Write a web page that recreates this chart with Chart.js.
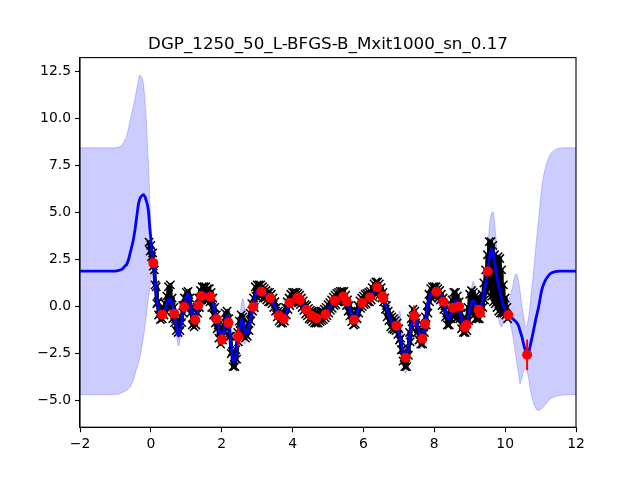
<!DOCTYPE html>
<html><head><meta charset="utf-8">
<script src="https://cdn.jsdelivr.net/npm/chart.js@4.4.1/dist/chart.umd.min.js"></script>
<style>html,body{margin:0;padding:0;background:#fff;}canvas{display:block;}</style>
</head><body>
<canvas id="c" width="640" height="480" style="width:640px;height:480px"></canvas>
<script>
const titleText = "DGP_1250_50_L-BFGS-B_Mxit1000_sn_0.17";
const xTicks = [-2, 0, 2, 4, 6, 8, 10, 12];
const yTicks = [-5, -2.5, 0, 2.5, 5, 7.5, 10, 12.5];

// predictive mean and band
const gridX = [-2.0,-1.5,-1.1,-0.93,-0.8,-0.75,-0.68,-0.63,-0.59,-0.55,-0.5,-0.45,-0.42,-0.38,-0.35,-0.31,-0.28,-0.21,-0.14,-0.07,-0.03,
 0.0,0.02,0.07,0.12,0.16,0.21,0.26,0.32,0.38,0.45,0.54,0.6,0.66,0.72,0.78,0.84,0.9,0.94,0.99,
 1.05,1.1,1.16,1.21,1.25,1.3,1.34,1.38,1.42,1.5,1.57,1.63,1.7,1.78,1.86,1.93,
 2.0,2.06,2.12,2.16,2.2,2.26,2.31,2.36,2.41,2.47,2.52,2.56,2.6,2.65,2.7,2.75,2.82,2.89,2.96,
 3.03,3.11,3.2,3.37,3.5,3.61,3.68,3.75,3.83,3.92,
 4.0,4.1,4.16,4.21,4.3,4.39,4.46,4.54,4.61,4.68,4.76,4.85,4.93,
 5.05,5.18,5.3,5.43,5.53,5.62,5.68,5.74,5.8,5.88,5.96,
 6.07,6.18,6.28,6.36,6.42,6.5,6.56,6.64,6.72,6.8,6.86,6.93,
 7.0,7.03,7.07,7.13,7.19,7.25,7.31,7.37,7.43,7.48,7.54,7.6,7.66,7.7,7.74,7.8,7.87,7.95,
 8.05,8.15,8.26,8.33,8.4,8.47,8.54,8.61,8.67,8.72,8.8,8.87,8.92,8.98,
 9.04,9.1,9.16,9.22,9.28,9.34,9.41,9.47,9.51,9.56,9.61,9.66,9.72,9.78,9.84,9.9,9.96,
 10.03,10.09,10.2,10.26,10.32,10.38,10.42,10.47,10.52,10.58,10.62,10.67,10.72,10.8,10.87,10.94,
 11.03,11.1,11.17,11.27,11.4,11.55,11.75,12.0];
const meanY = [1.88,1.88,1.88,1.91,2.0,2.12,2.25,2.5,2.8,3.1,3.5,4.05,4.47,5.05,5.45,5.73,5.84,5.95,5.69,5.1,4.17,
 3.57,2.97,2.33,1.26,0.5,-0.05,-0.38,-0.43,-0.26,0.14,0.41,0.14,-0.38,-1.07,-1.58,-1.18,-0.36,-0.02,0.44,
 0.68,0.34,-0.36,-0.78,-0.71,-0.31,0.06,0.34,0.56,0.68,0.68,0.62,0.49,-0.06,-0.66,-1.29,
 -1.76,-1.29,-0.58,-0.48,-0.88,-1.89,-2.7,-2.95,-2.5,-1.6,-0.98,-0.68,-0.88,-1.29,-1.46,-1.19,-0.58,-0.04,0.68,
 0.85,0.8,0.73,0.45,0.03,-0.48,-0.63,-0.68,-0.28,0.2,
 0.43,0.51,0.45,0.35,0.08,-0.18,-0.38,-0.49,-0.58,-0.62,-0.58,-0.53,-0.41,
 -0.07,0.31,0.48,0.51,0.26,-0.18,-0.53,-0.7,-0.48,-0.07,0.19,
 0.38,0.48,0.73,0.99,0.99,0.73,0.48,0.03,-0.48,-0.83,-0.93,-1.02,
 -1.39,-1.64,-1.99,-2.55,-2.73,-2.3,-1.49,-0.88,-0.5,-0.58,-1.08,-1.54,-1.72,-1.39,-0.92,-0.07,0.53,0.76,
 0.79,0.63,0.25,-0.28,-0.66,-0.38,0.03,0.31,0.13,-0.28,-0.88,-1.11,-0.93,-0.38,
 0.13,0.31,0.08,-0.12,-0.28,0.13,0.84,1.44,1.86,2.65,3.06,2.86,2.15,1.44,0.94,0.43,-0.02,
 -0.28,-0.45,-0.63,-0.73,-0.84,-1.03,-1.29,-1.59,-1.99,-2.4,-2.57,-2.4,-1.99,-1.29,-0.63,-0.07,
 0.85,1.25,1.5,1.74,1.85,1.88,1.88,1.88];
const upperY = [8.44,8.44,8.44,8.47,8.62,8.8,9.1,9.5,9.85,10.2,10.6,11.05,11.35,11.75,12.05,12.32,12.26,11.85,10.25,7.6,5.82,
 4.37,3.57,2.76,1.65,0.84,0.23,-0.09,-0.14,0.03,0.43,0.74,0.43,-0.09,-0.78,-1.24,-0.88,-0.07,0.28,0.79,
 0.94,0.63,-0.07,-0.48,-0.41,-0.02,0.35,0.63,0.86,0.98,0.98,0.92,0.79,0.23,-0.36,-0.98,
 -1.44,-0.88,-0.17,-0.12,-0.53,-1.54,-2.35,-2.6,-2.15,-1.29,-0.48,0.23,0.43,-0.17,-0.98,-0.83,-0.28,0.26,0.99,
 1.14,1.1,1.04,0.76,0.33,-0.17,-0.33,-0.38,0.03,0.5,
 0.74,0.82,0.76,0.66,0.38,0.13,-0.07,-0.19,-0.28,-0.32,-0.28,-0.23,-0.1,
 0.23,0.61,0.79,0.82,0.56,0.13,-0.23,-0.4,-0.17,0.23,0.49,
 0.68,0.79,1.04,1.29,1.29,1.04,0.79,0.33,-0.17,-0.53,-0.63,-0.58,
 -0.38,-0.23,-0.98,-2.2,-2.4,-1.99,-1.19,-0.58,-0.2,-0.28,-0.78,-1.24,-1.42,-1.08,-0.62,0.23,0.84,1.06,
 1.09,0.94,0.55,0.03,-0.36,-0.07,0.33,0.61,0.43,0.03,-0.58,-0.8,-0.63,0.13,
 0.84,1.34,0.84,0.18,0.03,0.43,1.14,1.85,2.96,4.37,4.93,5.03,4.07,2.76,1.64,0.89,0.53,
 0.23,0.33,0.94,1.54,1.73,1.34,0.84,0.13,-0.48,-1.09,-0.98,-0.48,0.43,1.85,3.26,4.57,
 6.29,7.1,7.6,8.07,8.33,8.42,8.44,8.44];
const lowerY = [-4.69,-4.69,-4.69,-4.67,-4.57,-4.52,-4.45,-4.38,-4.3,-4.15,-3.95,-3.65,-3.41,-3.2,-3.0,-2.7,-2.4,-1.63,-0.68,0.43,0.94,
 1.38,1.64,1.74,0.73,0.13,-0.38,-0.7,-0.75,-0.58,-0.18,0.08,-0.18,-0.73,-1.49,-2.1,-1.59,-0.68,-0.33,0.13,
 0.38,0.03,-0.68,-1.14,-1.03,-0.63,-0.26,0.03,0.25,0.37,0.37,0.31,0.18,-0.38,-0.96,-1.59,
 -2.1,-1.59,-0.88,-0.83,-1.24,-2.3,-3.1,-3.36,-2.9,-1.94,-1.39,-1.49,-1.89,-1.99,-1.84,-1.54,-0.88,-0.35,0.38,
 0.53,0.49,0.43,0.15,-0.28,-0.78,-0.93,-0.98,-0.58,-0.1,
 0.13,0.21,0.15,0.05,-0.23,-0.48,-0.68,-0.79,-0.88,-0.92,-0.88,-0.83,-0.71,
 -0.38,0.01,0.18,0.21,-0.04,-0.48,-0.83,-1.0,-0.78,-0.38,-0.12,
 0.08,0.18,0.43,0.68,0.68,0.43,0.18,-0.28,-0.78,-1.14,-1.24,-1.33,
 -1.69,-1.94,-2.3,-3.0,-3.56,-2.9,-1.79,-1.19,-0.8,-0.93,-1.79,-2.25,-2.1,-1.69,-1.23,-0.38,0.23,0.45,
 0.48,0.33,-0.05,-0.58,-0.96,-0.68,-0.28,0.01,-0.18,-0.58,-1.19,-1.41,-1.24,-0.68,
 -0.18,0.01,-0.23,-0.43,-0.58,-0.18,0.53,1.14,1.54,2.25,2.55,2.35,1.24,-0.07,-0.88,-1.09,-0.78,
 -0.63,-0.68,-1.39,-2.1,-2.9,-3.61,-4.12,-3.82,-3.42,-3.32,-3.46,-3.92,-4.52,-5.13,-5.43,-5.53,
 -5.43,-5.28,-5.13,-4.93,-4.8,-4.73,-4.7,-4.69];

// observations (black crosses)
const dataX = [-0.05,-0.02,
 0.00,0.02,0.05,0.07, 0.10,0.12,0.15,0.17, 0.20,0.22,0.25,0.27, 0.30,0.32,0.35,0.37, 0.40,0.42,0.45,0.47,
 0.50,0.52,0.55,0.57, 0.60,0.62,0.65,0.67, 0.70,0.72,0.75,0.77, 0.80,0.82,0.85,0.87, 0.90,0.92,0.95,0.97,
 1.00,1.02,1.05,1.07, 1.10,1.12,1.15,1.17, 1.20,1.22,1.25,1.27, 1.30,1.32,1.35,1.37, 1.40,1.42,1.45,1.47,
 1.50,1.52,1.55,1.57, 1.60,1.62,1.65,1.67, 1.70,1.72,1.75,1.77, 1.80,1.82,1.85,1.87, 1.90,1.92,1.95,1.97,
 2.00,2.02,2.05,2.07, 2.10,2.12,2.15,2.17, 2.20,2.22,2.25,2.27, 2.30,2.32,2.35,2.37, 2.40,2.42,2.45,2.47,
 2.50,2.52,2.55,2.57, 2.60,2.62,2.65,2.67, 2.70,2.72,2.75,2.77, 2.80,2.82,2.85,2.87, 2.90,2.92,2.95,2.97,
 3.00,3.02,3.05,3.07, 3.10,3.12,3.15,3.17, 3.20,3.22,3.25,3.27, 3.30,3.32,3.35,3.37, 3.40,3.42,3.45,3.47,
 3.50,3.52,3.55,3.57, 3.60,3.62,3.65,3.67, 3.70,3.72,3.75,3.77, 3.80,3.82,3.85,3.87, 3.90,3.92,3.95,3.97,
 4.00,4.02,4.05,4.07, 4.10,4.12,4.15,4.17, 4.20,4.22,4.25,4.27, 4.30,4.32,4.35,4.37, 4.40,4.42,4.45,4.47,
 4.50,4.52,4.55,4.57, 4.60,4.62,4.65,4.67, 4.70,4.72,4.75,4.77, 4.80,4.82,4.85,4.87, 4.90,4.92,4.95,4.97,
 5.00,5.02,5.05,5.07, 5.10,5.12,5.15,5.17, 5.20,5.22,5.25,5.27, 5.30,5.32,5.35,5.37, 5.40,5.42,5.45,5.47,
 5.50,5.52,5.55,5.57, 5.60,5.62,5.65,5.67, 5.70,5.72,5.75,5.77, 5.80,5.82,5.85,5.87, 5.90,5.92,5.95,5.97,
 6.00,6.02,6.05,6.07, 6.10,6.12,6.15,6.17, 6.20,6.22,6.25,6.27, 6.30,6.32,6.35,6.37, 6.40,6.42,6.45,6.47,
 6.50,6.52,6.55,6.57, 6.60,6.62,6.65,6.67, 6.70,6.72,6.75,6.77, 6.80,6.82,6.85,6.87, 6.90,6.92,6.95,6.97,
 7.00,7.02,7.05,7.07, 7.10,7.12,7.15,7.17, 7.20,7.22,7.25,7.27, 7.30,7.32,7.35,7.37, 7.40,7.42,7.45,7.47,
 7.50,7.52,7.55,7.57, 7.60,7.62,7.65,7.67, 7.70,7.72,7.75,7.77, 7.80,7.82,7.85,7.87, 7.90,7.92,7.95,7.97,
 8.00,8.02,8.05,8.07, 8.10,8.12,8.15,8.17, 8.20,8.22,8.25,8.27, 8.30,8.32,8.35,8.37, 8.40,8.42,8.45,8.47,
 8.50,8.52,8.55,8.57, 8.60,8.62,8.65,8.67, 8.70,8.72,8.75,8.77, 8.80,8.82,8.85,8.87, 8.90,8.92,8.95,8.97,
 9.00,9.02,9.05,9.07, 9.10,9.12,9.15,9.17, 9.20,9.22,9.25,9.27, 9.30,9.32,9.35,9.37, 9.40,9.42,9.45,9.47,
 9.50,9.52,9.55,9.57, 9.60,9.62,9.65,9.67, 9.70,9.72,9.75,9.77, 9.80,9.82,9.85,9.87, 9.90,9.92,9.95,9.97,
 10.00,10.02,10.05,10.07];
const dataY = [3.42,2.95,
 3.25,2.65,2.85,2.15, 1.95,1.15,1.05,0.15, 0.25,-0.45,-0.15,-0.7, -0.15,-0.65,-0.1,-0.45, 0.15,-0.25,0.55,0.05,
 1.05,0.15,1.15,-0.05, 0.45,-0.65,-0.05,-0.85, -0.65,-1.28,-0.98,-1.38, -0.98,-1.28,-0.55,-0.85, 0.05,-0.35,0.45,0.05,
 0.75,0.35,0.8,0.25, 0.45,-0.35,-0.05,-0.98, -0.55,-1.08,-0.45,-0.98, -0.05,-0.35,0.45,-0.05, 0.85,0.35,1.05,0.45,
 1.05,0.35,1.05,0.45, 0.95,0.35,0.95,0.25, 0.75,-0.05,0.45,-0.45, -0.05,-0.88,-0.45,-1.18, -0.98,-1.68,-1.38,-2.0,
 -1.48,-1.78,-0.98,-1.38, -0.35,-0.88,-0.25,-0.88, -0.65,-1.58,-1.58,-2.5, -2.4,-3.2,-2.7,-3.2, -2.3,-2.8,-1.38,-1.88,
 -0.78,-1.28,-0.45,-0.98, -0.55,-1.38,-1.08,-1.68, -1.18,-1.58,-0.88,-1.28, -0.35,-0.78,0.15,-0.25, 0.45,-0.05,1.05,0.55,
 1.15,0.65,1.15,0.55, 1.15,0.55,1.05,0.45, 0.95,0.45,0.85,0.35, 0.75,0.25,0.75,0.25, 0.65,0.15,0.45,-0.05,
 0.25,-0.25,-0.05,-0.55, -0.25,-0.78,-0.35,-0.88, -0.35,-0.88,-0.35,-0.78, -0.05,-0.45,0.25,-0.15, 0.45,0.05,0.65,0.25,
 0.75,0.25,0.75,0.3, 0.75,0.25,0.7,0.2, 0.6,0.1,0.45,-0.05, 0.3,-0.2,0.1,-0.4, 0.05,-0.5,-0.1,-0.65,
 -0.2,-0.7,-0.25,-0.8, -0.3,-0.88,-0.35,-0.88, -0.35,-0.88,-0.3,-0.8, -0.25,-0.75,-0.25,-0.7, -0.15,-0.6,-0.05,-0.5,
 0.1,-0.35,0.2,-0.2, 0.35,-0.1,0.5,0.05, 0.6,0.1,0.7,0.25, 0.75,0.25,0.8,0.3, 0.8,0.3,0.8,0.25,
 0.6,0.05,0.35,-0.25, 0.05,-0.5,-0.25,-0.8, -0.45,-0.98,-0.45,-0.93, -0.25,-0.65,0.05,-0.35, 0.3,-0.1,0.45,0.0,
 0.55,0.1,0.65,0.15, 0.7,0.25,0.75,0.25, 0.8,0.35,1.0,0.5, 1.2,0.7,1.3,0.8, 1.3,0.75,1.2,0.65,
 1.0,0.45,0.75,0.25, 0.45,-0.15,0.05,-0.55, -0.25,-0.75,-0.45,-1.08, -0.55,-1.18,-0.65,-1.23, -0.75,-1.28,-0.88,-1.48,
 -1.18,-1.78,-1.68,-2.3, -2.3,-2.9,-2.7,-3.2, -2.7,-3.2,-2.2,-2.6, -1.38,-1.88,-0.65,-1.18, -0.15,-0.75,-0.25,-0.88,
 -0.65,-1.38,-1.18,-1.78, -1.48,-2.0,-1.48,-2.0, -1.08,-1.38,-0.55,-0.98, 0.05,-0.35,0.65,0.25, 0.95,0.45,1.05,0.55,
 1.05,0.55,1.05,0.55, 0.95,0.45,0.85,0.35, 0.65,0.05,0.45,-0.15, 0.05,-0.55,-0.35,-0.98, -0.45,-0.98,-0.15,-0.65,
 0.35,-0.25,0.75,-0.55, 0.75,-0.65,0.55,-0.45, 0.25,-0.65,-0.35,-1.18, -0.65,-1.38,-0.88,-1.38, -0.65,-1.28,-0.05,-0.75,
 0.65,-0.35,0.85,-0.25, 0.75,-0.45,0.55,-0.65, 0.45,-0.65,0.25,-0.65, 0.35,-0.35,0.65,-0.05, 1.25,0.35,1.95,0.75,
 2.75,1.15,3.45,0.95, 3.45,0.55,3.25,0.25, 2.75,0.15,2.25,-0.05, 2.65,-0.25,2.55,-0.35, 1.95,-0.35,1.15,-0.35,
 0.45,-0.45,-0.05,-0.65];

// inducing points (red) with error bars
const inducX = [0.07,0.32,0.66,0.94,1.25,1.34,1.42,1.68,1.85,2.0,2.19,2.47,2.89,3.12,3.37,3.61,3.75,3.92,
 4.14,4.21,4.39,4.54,4.68,4.93,5.19,5.43,5.53,5.74,5.96,6.18,6.39,6.54,6.56,6.93,7.19,7.43,7.66,7.74,
 8.06,8.26,8.53,8.70,8.86,8.91,9.25,9.29,9.51,10.09,10.62];
const inducY = [2.32,-0.43,-0.38,-0.02,-0.71,0.05,0.56,0.52,-0.66,-1.76,-0.87,-1.6,-0.03,0.8,0.45,-0.48,-0.67,0.2,
 0.48,0.35,-0.17,-0.49,-0.62,-0.41,0.31,0.53,0.26,-0.7,0.19,0.48,1.02,0.55,0.43,-1.02,-2.73,-0.5,-1.72,-0.92,
 0.78,0.25,-0.06,0.0,-1.12,-0.98,-0.17,-0.36,1.86,-0.45,-2.57];
const inducErr = [0.15,0.15,0.15,0.15,0.15,0.15,0.15,0.15,0.15,0.3,0.2,0.5,0.15,0.15,0.15,0.15,0.15,0.15,
 0.15,0.15,0.15,0.15,0.15,0.15,0.15,0.15,0.15,0.15,0.15,0.15,0.15,0.15,0.15,0.15,0.2,0.55,0.15,0.15,
 0.15,0.15,0.15,0.15,0.15,0.15,0.15,0.15,0.15,0.15,0.82];

const pts = (xs, ys) => xs.map((x, i) => ({x: x, y: ys[i]}));
const minus = s => s.replace('-', '\u2212');
const FONT = '"DejaVu Sans", "Liberation Sans", sans-serif';

const decor = {
  id: 'decor',
  beforeDraw(chart) {
    const c = chart.ctx; c.save(); c.fillStyle = '#fff'; c.fillRect(0, 0, chart.width, chart.height); c.restore();
  },
  beforeDatasetDraw(chart, args) {
    if (args.index !== 4) return;
    const c = chart.ctx, xs = chart.scales.x, ys = chart.scales.y, a = chart.chartArea;
    c.save();
    c.beginPath(); c.rect(a.left, a.top, a.right - a.left, a.bottom - a.top); c.clip();
    c.strokeStyle = '#ff0000'; c.lineWidth = 2;
    for (let i = 0; i < inducX.length; i++) {
      const px = xs.getPixelForValue(inducX[i]);
      c.beginPath();
      c.moveTo(px, ys.getPixelForValue(inducY[i] - inducErr[i]));
      c.lineTo(px, ys.getPixelForValue(inducY[i] + inducErr[i]));
      c.stroke();
    }
    c.restore();
  },
  afterDraw(chart) {
    const c = chart.ctx, a = chart.chartArea;
    c.save();
    c.strokeStyle = '#000'; c.lineWidth = 1.1;
    c.strokeRect(a.left, a.top, a.right - a.left, a.bottom - a.top);
    c.fillStyle = '#000'; c.font = '16.7px ' + FONT; c.textAlign = 'center'; c.textBaseline = 'alphabetic';
    c.fillText(titleText, (a.left + a.right) / 2, a.top - 8.3);
    c.restore();
  }
};

new Chart(document.getElementById('c'), {
  type: 'scatter',
  data: {
    datasets: [
      { data: pts(gridX, upperY), showLine: true, borderColor: 'rgba(0,0,255,0.2)', borderWidth: 1,
        pointRadius: 0, fill: false, cubicInterpolationMode: 'monotone', order: 4 },
      { data: pts(gridX, lowerY), showLine: true, borderColor: 'rgba(0,0,255,0.2)', borderWidth: 1,
        pointRadius: 0, fill: 0, backgroundColor: 'rgba(0,0,255,0.2)', cubicInterpolationMode: 'monotone', order: 3 },
      { data: pts(dataX, dataY), showLine: true, borderColor: '#000', borderWidth: 4, tension: 0,
        pointStyle: 'crossRot', pointRadius: 5.9, pointBorderWidth: 1.5, pointBorderColor: '#000',
        pointBackgroundColor: '#000', order: 2 },
      { data: pts(gridX, meanY), showLine: true, borderColor: '#0000ff', borderWidth: 2.8,
        pointRadius: 0, cubicInterpolationMode: 'monotone', order: 1 },
      { data: pts(inducX, inducY), showLine: false, pointRadius: 5, pointBorderWidth: 0,
        pointBackgroundColor: '#ff0000', pointBorderColor: '#ff0000', order: 0 }
    ]
  },
  options: {
    responsive: false, animation: false, devicePixelRatio: 1,
    layout: { padding: { left: 0, right: 64, top: 57.6, bottom: 0 } },
    plugins: { legend: { display: false }, tooltip: { enabled: false }, title: { display: false } },
    elements: { line: { borderJoinStyle: 'round', borderCapStyle: 'round' } },
    scales: {
      x: {
        type: 'linear', position: 'bottom', min: -2, max: 12,
        afterBuildTicks: s => { s.ticks = xTicks.map(v => ({ value: v })); },
        afterFit: s => { s.height = 52.8; },
        ticks: { color: '#000', font: { family: FONT, size: 13.9 }, padding: 4, maxRotation: 0, autoSkip: false,
                 callback: v => minus(String(v)) },
        grid: { display: true, drawOnChartArea: false, drawTicks: true, tickLength: 5, tickWidth: 1.1, tickColor: '#000' },
        border: { display: true, color: '#000', width: 1.1 }
      },
      y: {
        type: 'linear', position: 'left', min: -6.42, max: 13.24,
        afterBuildTicks: s => { s.ticks = yTicks.map(v => ({ value: v })); },
        afterFit: s => { s.width = 80; },
        ticks: { color: '#000', font: { family: FONT, size: 13.9 }, padding: 4, autoSkip: false,
                 callback: v => minus(Number(v).toFixed(1)) },
        grid: { display: true, drawOnChartArea: false, drawTicks: true, tickLength: 5, tickWidth: 1.1, tickColor: '#000' },
        border: { display: true, color: '#000', width: 1.1 }
      }
    }
  },
  plugins: [decor]
});
</script>
</body></html>
